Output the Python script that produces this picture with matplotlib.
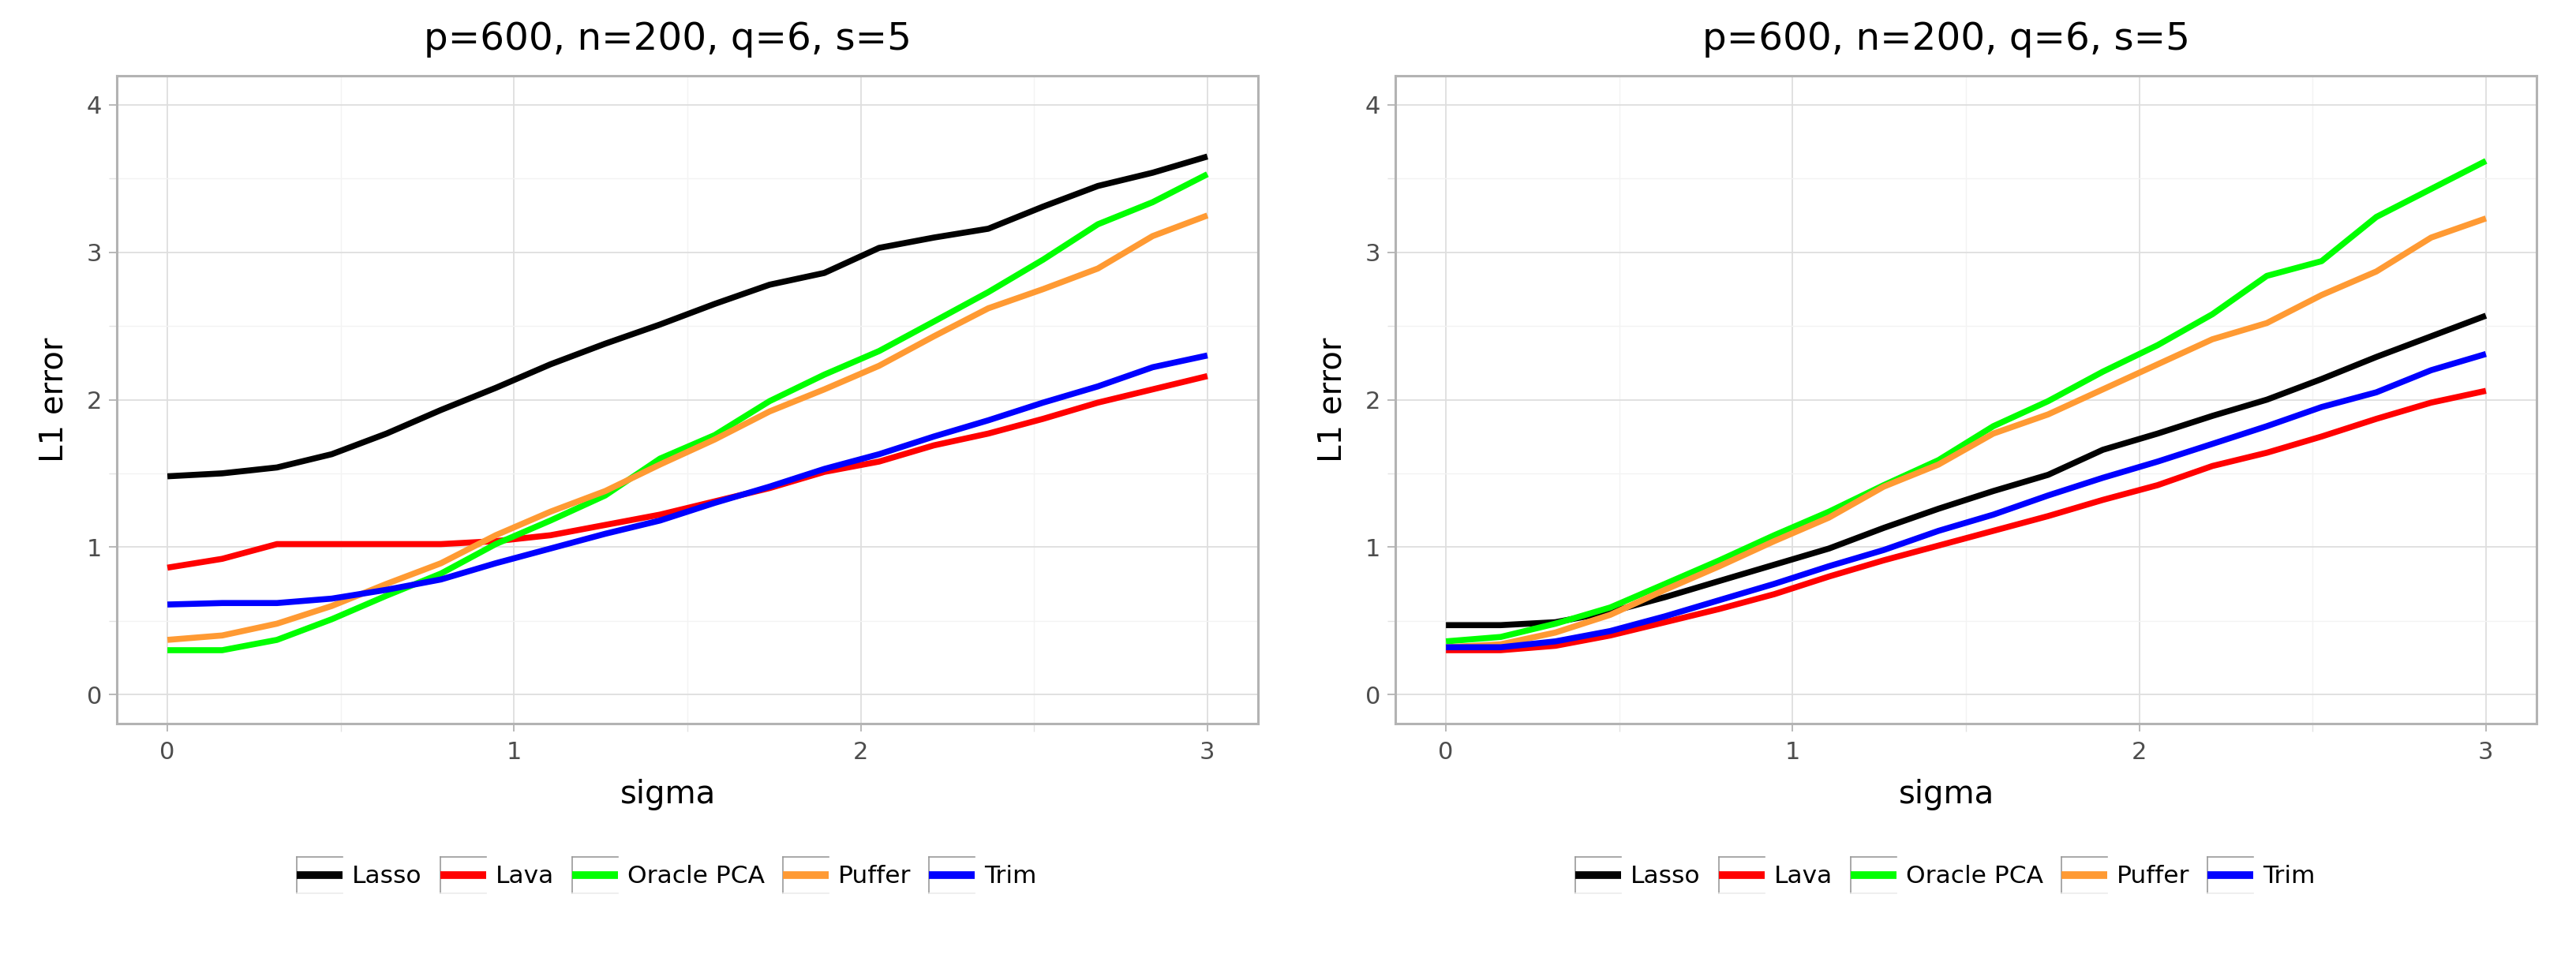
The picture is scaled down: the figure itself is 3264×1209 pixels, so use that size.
import matplotlib
matplotlib.use("Agg")
import matplotlib.pyplot as plt
from matplotlib.lines import Line2D
from matplotlib.legend_handler import HandlerBase

# sigma grid (20 points)
sigma = [0.000, 0.158, 0.316, 0.474, 0.632, 0.789, 0.947, 1.105, 1.263, 1.421,
         1.579, 1.737, 1.895, 2.053, 2.211, 2.368, 2.526, 2.684, 2.842, 3.000]

methods = ["Lasso", "Lava", "Oracle PCA", "Puffer", "Trim"]
colors = ["#000000", "#ff0000", "#00ff00", "#ff9a33", "#0000ff"]

# left panel
lasso_l = [1.48, 1.50, 1.54, 1.63, 1.77, 1.93, 2.08, 2.24, 2.38, 2.51,
           2.65, 2.78, 2.86, 3.03, 3.10, 3.16, 3.31, 3.45, 3.54, 3.65]
lava_l = [0.86, 0.92, 1.02, 1.02, 1.02, 1.02, 1.04, 1.08, 1.15, 1.22,
          1.31, 1.40, 1.51, 1.58, 1.69, 1.77, 1.87, 1.98, 2.07, 2.16]
pca_l = [0.30, 0.30, 0.37, 0.51, 0.67, 0.82, 1.02, 1.18, 1.35, 1.60,
         1.76, 1.99, 2.17, 2.33, 2.53, 2.73, 2.95, 3.19, 3.34, 3.53]
puffer_l = [0.37, 0.40, 0.48, 0.60, 0.75, 0.89, 1.08, 1.24, 1.38, 1.56,
            1.73, 1.92, 2.07, 2.23, 2.43, 2.62, 2.75, 2.89, 3.11, 3.25]
trim_l = [0.61, 0.62, 0.62, 0.65, 0.71, 0.78, 0.89, 0.99, 1.09, 1.18,
          1.30, 1.41, 1.53, 1.63, 1.75, 1.86, 1.98, 2.09, 2.22, 2.30]

# right panel
lasso_r = [0.47, 0.47, 0.49, 0.56, 0.66, 0.77, 0.88, 0.99, 1.13, 1.26,
           1.38, 1.49, 1.66, 1.77, 1.89, 2.00, 2.14, 2.29, 2.43, 2.57]
lava_r = [0.30, 0.30, 0.33, 0.40, 0.49, 0.58, 0.68, 0.80, 0.91, 1.01,
          1.11, 1.21, 1.32, 1.42, 1.55, 1.64, 1.75, 1.87, 1.98, 2.06]
pca_r = [0.36, 0.39, 0.48, 0.59, 0.75, 0.91, 1.08, 1.24, 1.42, 1.59,
         1.82, 1.99, 2.19, 2.37, 2.58, 2.84, 2.94, 3.24, 3.43, 3.62]
puffer_r = [0.32, 0.34, 0.42, 0.54, 0.71, 0.87, 1.04, 1.20, 1.41, 1.56,
            1.77, 1.90, 2.07, 2.24, 2.41, 2.52, 2.71, 2.87, 3.10, 3.23]
trim_r = [0.32, 0.32, 0.36, 0.43, 0.53, 0.64, 0.75, 0.87, 0.98, 1.11,
          1.22, 1.35, 1.47, 1.58, 1.70, 1.82, 1.95, 2.05, 2.20, 2.31]

title = "p=600, n=200, q=6, s=5"

plt.rcParams['font.family'] = ['DejaVu Sans']


class KeyHandler(HandlerBase):
    # ggplot-like legend key: grey box edge on the left/top, line across the middle
    def create_artists(self, legend, orig_handle, xdescent, ydescent,
                       width, height, fontsize, trans):
        x0, y0 = -xdescent, -ydescent
        ym = y0 + height / 2.0
        left = Line2D([x0, x0], [y0, y0 + height], color="#9a9a9a", lw=1.2)
        top = Line2D([x0, x0 + width], [y0 + height, y0 + height], color="#9a9a9a", lw=1.2)
        bottom = Line2D([x0, x0 + width], [y0, y0], color="#ececec", lw=1.2)
        line = Line2D([x0, x0 + width], [ym, ym], color=orig_handle.get_color(),
                      lw=7, solid_capstyle="butt")
        arts = [left, top, bottom, line]
        for a in arts:
            a.set_transform(trans)
        return arts


fig = plt.figure(figsize=(32.64, 12.09), dpi=100)

W, H = 3264.0, 1209.0
ax_w = 1446 / W
ax_h = 821 / H
ax_y = 1 - 917 / H
lefts = [148 / W, 1768 / W]

panels = [
    [lasso_l, lava_l, pca_l, puffer_l, trim_l],
    [lasso_r, lava_r, pca_r, puffer_r, trim_r],
]

for k in range(2):
    ax = fig.add_axes([lefts[k], ax_y, ax_w, ax_h])
    handles = []
    for name, col, vals in zip(methods, colors, panels[k]):
        ln, = ax.plot(sigma, vals, color=col, lw=5.5, label=name,
                      solid_joinstyle="round", solid_capstyle="butt")
        handles.append(ln)

    ax.set_xlim(-0.146, 3.146)
    ax.set_ylim(-0.198, 4.198)
    ax.set_xticks([0, 1, 2, 3])
    ax.set_yticks([0, 1, 2, 3, 4])
    ax.set_xticks([0.5, 1.5, 2.5], minor=True)
    ax.set_yticks([0.5, 1.5, 2.5, 3.5], minor=True)

    ax.grid(which="major", color="#dedede", lw=1.3)
    ax.grid(which="minor", color="#f3f3f3", lw=1.0)
    ax.set_axisbelow(True)

    for sp in ax.spines.values():
        sp.set_color("#b3b3b3")
        sp.set_linewidth(2.2)

    ax.tick_params(which="major", length=7.5, width=1.3, color="#b3b3b3",
                   labelsize=22, labelcolor="#4d4d4d")
    ax.tick_params(axis="x", which="major", pad=8.5)
    ax.tick_params(axis="y", which="major", pad=6)
    ax.tick_params(which="minor", length=7.5, width=1.0, color="#e3e3e3")

    ax.set_title(title, fontsize=34.8, x=0.483, y=(917 - 63) / 821.0, pad=0)

    ax.set_xlabel("sigma", fontsize=29)
    ax.xaxis.label.set_va("baseline")
    ax.xaxis.set_label_coords(0.4834, (917 - 1018) / 821.0)

    ax.set_ylabel("L1 error", fontsize=29)
    ax.yaxis.label.set_va("baseline")
    ax.yaxis.set_label_coords((80 - 148) / 1446.0, 0.5)

    ax.legend(handles=handles, handler_map={Line2D: KeyHandler()},
              loc="center", bbox_to_anchor=(0.482, (917 - 1109) / 821.0),
              bbox_transform=ax.transAxes, ncol=5, frameon=False,
              fontsize=22.5, handlelength=1.856, handleheight=1.856,
              handletextpad=0.384, columnspacing=0.736, borderpad=0,
              borderaxespad=0)

fig.savefig("out.png", dpi=100, facecolor="white")
